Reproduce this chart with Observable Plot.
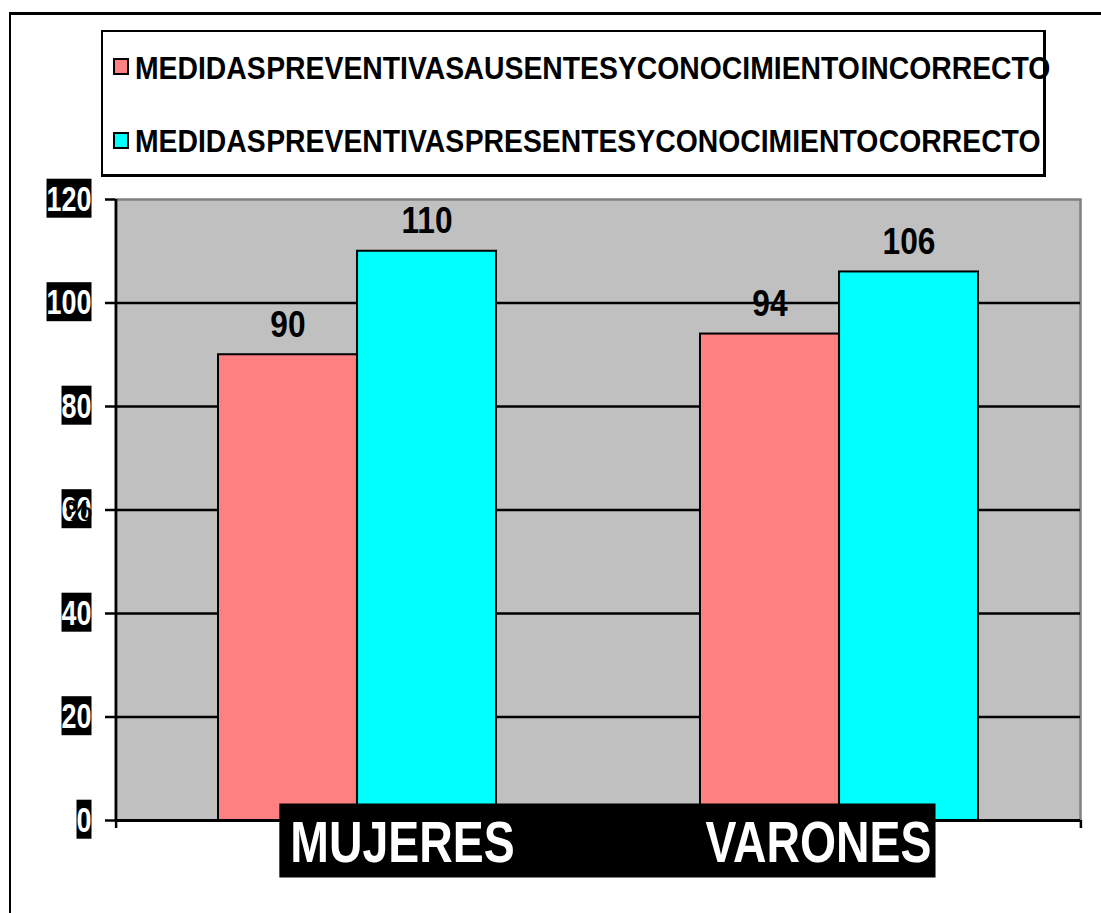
<!DOCTYPE html>
<html>
<head>
<meta charset="utf-8">
<script src="https://cdn.jsdelivr.net/npm/d3@7"></script>
<script src="https://cdn.jsdelivr.net/npm/@observablehq/plot@0.6"></script>
<style>
  html, body { margin: 0; padding: 0; background: #fff; overflow: hidden; }
  body { width: 1101px; height: 913px; position: relative; font-family: 'Liberation Sans', Arial, sans-serif; }
  #marco { position: absolute; left: 9px; top: 12px; width: 1100px; height: 910px;
           border-left: 2px solid #000; border-top: 3px solid #000; }
  #leyenda { position: absolute; left: 101px; top: 30px; width: 940px; height: 142px;
             border: 2px solid #000; border-right-width: 3px; border-bottom-width: 3px; background: #fff; }
  .sw { position: absolute; left: 10px; width: 12px; height: 13px; border: 2px solid #000; }
  .lbl { position: absolute; left: 32px; font-size: 31px; line-height: 31px; font-weight: bold;
         color: #000; white-space: nowrap; word-spacing: -8px; transform: scaleX(0.914); transform-origin: 0 0; }
  #grafico { position: absolute; left: 0; top: 180px; }
</style>
</head>
<body>
<div id="marco"></div>
<div id="leyenda"></div>
<div id="grafico"></div>
<script>
// ---- Datos ----
const categorias = ["MUJERES", "VARONES"];
const series = [
  "MEDIDAS PREVENTIVAS AUSENTES Y CONOCIMIENTO INCORRECTO",
  "MEDIDAS PREVENTIVAS PRESENTES Y CONOCIMIENTO CORRECTO"
];
const ausentes = [90, 94];
const presentes = [110, 106];
const yTicks = [0, 20, 40, 60, 80, 100, 120];
const colores = ["#ff8080", "#00ffff"];
const tituloY = "%";

// ---- Leyenda (HTML) ----
const leyenda = document.getElementById("leyenda");
const swTops = [26, 100], lblTops = [20.8, 93.8];
series.forEach((s, i) => {
  const sw = document.createElement("div");
  sw.className = "sw"; sw.style.top = swTops[i] + "px"; sw.style.background = colores[i];
  const lb = document.createElement("div");
  lb.className = "lbl"; lb.style.top = lblTops[i] + "px"; lb.textContent = s;
  leyenda.append(sw, lb);
});

// ---- Gráfico ----
const W = 1101, H = 733;
const mL = 115, mR = 21, mT = 19, mB = 93;
const pInner = 0.424, pOuter = 0.2114;
const n = categorias.length;
const step = (W - mL - mR) / (n - pInner + 2 * pOuter);
const bw = step * (1 - pInner);

const datos = categorias.flatMap((c, i) => [
  {categoria: c, serie: series[0], valor: ausentes[i]},
  {categoria: c, serie: series[1], valor: presentes[i]}
]);
const dA = datos.filter(d => d.serie === series[0]);
const dP = datos.filter(d => d.serie === series[1]);

const plot = Plot.plot({
  width: W, height: H,
  marginLeft: mL, marginRight: mR, marginTop: mT, marginBottom: mB,
  style: {fontFamily: "'Liberation Sans', Arial, sans-serif", background: "transparent", overflow: "visible", color: "#000"},
  x: {domain: categorias, paddingInner: pInner, paddingOuter: pOuter, axis: null},
  y: {domain: [yTicks[0], yTicks[yTicks.length - 1]], label: null},
  marks: [
    Plot.frame({fill: "#c0c0c0", stroke: "#808080", strokeWidth: 2.5}),
    Plot.gridY(yTicks.slice(1, -1), {stroke: "#000", strokeOpacity: 1, strokeWidth: 2.5}),
    Plot.barY(dA, {x: "categoria", y: "valor", fill: colores[0], stroke: "#000", strokeWidth: 2, insetLeft: 0, insetRight: bw / 2}),
    Plot.barY(dP, {x: "categoria", y: "valor", fill: colores[1], stroke: "#000", strokeWidth: 2, insetLeft: bw / 2, insetRight: 0}),
    Plot.ruleY([yTicks[0]], {stroke: "#000", strokeWidth: 3}),
    Plot.ruleX([categorias[0]], {dx: -step / 2, stroke: "#000", strokeWidth: 2.5, insetBottom: -8}),
    Plot.ruleX(categorias, {dx: step / 2, y1: () => 0, y2: () => 0, insetBottom: -8, stroke: "#000", strokeWidth: 2.5}),
    Plot.axisY(yTicks, {tickSize: 10, tickPadding: 14, stroke: "#000", strokeWidth: 2.5, fill: "#fff",
                        fontSize: 35, fontWeight: "bold", label: null}),
    Plot.text(dA, {x: "categoria", y: "valor", text: d => String(d.valor), dx: -bw / 4, dy: -18,
                   lineAnchor: "bottom", fontSize: 36, fontWeight: "bold", fill: "#000"}),
    Plot.text(dP, {x: "categoria", y: "valor", text: d => String(d.valor), dx: bw / 4, dy: -18,
                   lineAnchor: "bottom", fontSize: 36, fontWeight: "bold", fill: "#000"}),
    Plot.text([categorias[0]], {x: d => d, text: d => d, frameAnchor: "bottom", dx: 45, dy: 41,
                   lineAnchor: "bottom", fontSize: 58, fontWeight: "bold", fill: "#fff"}),
    Plot.text([categorias[1]], {x: d => d, text: d => d, frameAnchor: "bottom", dx: -21, dy: 41,
                   lineAnchor: "bottom", fontSize: 58, fontWeight: "bold", fill: "#fff"}),
    Plot.text([tituloY], {y: () => yTicks[3], text: d => d, frameAnchor: "left", dx: -50,
                   fontSize: 30, fontWeight: "bold", fill: "#000"})
  ]
});

document.getElementById("grafico").append(plot);
const svg = plot.tagName.toLowerCase() === "svg" ? plot : plot.querySelector("svg");
const NS = "http://www.w3.org/2000/svg";

function condensar(textos, f) {
  textos.forEach(t => {
    const w = t.getComputedTextLength();
    t.setAttribute("textLength", (w * f).toFixed(2));
    t.setAttribute("lengthAdjust", "spacingAndGlyphs");
  });
}
function caja(textos, pad, antesDe) {
  const sr = svg.getBoundingClientRect();
  let x0 = Infinity, y0 = Infinity, x1 = -Infinity, y1 = -Infinity;
  textos.forEach(t => {
    const r = t.getBoundingClientRect();
    x0 = Math.min(x0, r.left); y0 = Math.min(y0, r.top);
    x1 = Math.max(x1, r.right); y1 = Math.max(y1, r.bottom);
  });
  const rect = document.createElementNS(NS, "rect");
  rect.setAttribute("x", x0 - sr.left - pad[3]);
  rect.setAttribute("y", y0 - sr.top - pad[0]);
  rect.setAttribute("width", x1 - x0 + pad[1] + pad[3]);
  rect.setAttribute("height", y1 - y0 + pad[0] + pad[2]);
  rect.setAttribute("fill", "#000");
  antesDe.parentNode.insertBefore(rect, antesDe);
}

const todos = Array.from(svg.querySelectorAll("text"));
const gY = svg.querySelector('g[aria-label="y-axis tick label"]');
const ty = gY ? Array.from(gY.querySelectorAll("text")) : [];
const valStr = [...ausentes, ...presentes].map(String);
const tv = todos.filter(t => !ty.includes(t) && valStr.includes(t.textContent.trim()));
const tx = todos.filter(t => categorias.includes(t.textContent.trim()));
condensar(ty, 0.77);
ty.forEach(t => caja([t], [0, 0, 0, 0], gY));
condensar(tv, 0.88);
condensar(tx, 0.8);
if (tx.length) caja(tx, [5, 4, 4, 11], tx[0].parentNode);
</script>
</body>
</html>
